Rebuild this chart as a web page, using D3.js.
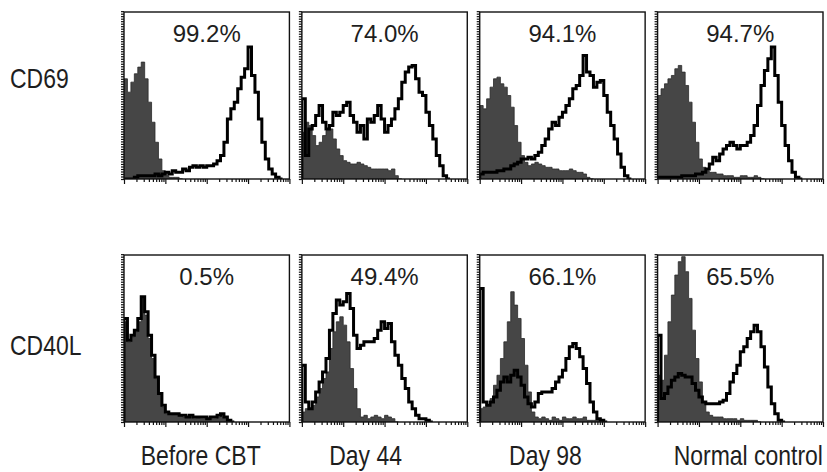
<!DOCTYPE html>
<html>
<head>
<meta charset="utf-8">
<title>CD69 / CD40L expression</title>
<script src="https://cdn.jsdelivr.net/npm/d3@7"></script>
<style>
body { margin: 0; background: #fff; }
svg { display: block; }
.narrow { font-family: "Liberation Sans", Arial, sans-serif; fill: #1e1e1e; }
.pct { font-family: "Liberation Sans", Arial, sans-serif; fill: #1e1e1e; }
</style>
</head>
<body>
<div id="chart"></div>
<script>

// row / column categories
var markers = ["CD69", "CD40L"];
var timepoints = ["Before CBT", "Day 44", "Day 98", "Normal control"];

// % positive cells printed in each panel
var cd69Pct = ["99.2%", "74.0%", "94.1%", "94.7%"];
var cd40lPct = ["0.5%", "49.4%", "66.1%", "65.5%"];

// histograms, 48 channels across the log axis, height in % of panel
// "Iso" = grey filled control, "Stain" = black outline
var cd69BeforeIso = [60,52,58,63,67,70,60,46,34,22,12,5,2,1,1,1,0];
var cd69BeforeStain = [0,0,0,1,2,2,2,2,2,3,2,3,4,3,5,4,4,6,5,7,8,7,8,7,8,8,9,11,14,22,36,42,46,54,61,66,79,62,52,36,22,12,6,3,1,0];

var cd69Day44Iso = [28,34,32,26,20,22,26,29,30,24,18,14,11,10,9,9,10,9,8,7,6,6,6,6,6,5,6,2,0];
var cd69Day44Stain = [48,14,30,32,38,44,34,30,32,40,38,40,44,46,38,34,28,32,24,36,34,38,44,36,28,32,36,42,48,58,64,67,68,60,52,50,40,32,24,14,8,2,0];

var cd69Day98Iso = [44,42,48,55,60,61,57,55,50,43,32,22,14,10,8,9,10,9,8,7,7,6,6,5,5,5,6,5,4,4,3,1,0];
var cd69Day98Stain = [3,4,4,4,4,5,5,6,6,8,9,10,12,12,13,12,14,16,20,24,30,34,32,37,40,44,48,54,56,62,74,64,62,55,58,59,50,40,32,24,15,7,2,0];

var cd69NormalIso = [50,54,57,60,62,66,68,64,56,46,34,22,12,7,5,4,4,3,3,2,2,2,1,1,2,2,1,1,2,1,0];
var cd69NormalStain = [1,1,1,1,1,1,1,2,2,2,2,3,3,4,6,9,13,11,15,18,20,22,20,18,20,20,22,26,32,44,56,65,72,79,62,46,32,20,11,4,1,0];

var cd40lBeforeIso = [60,48,51,54,60,74,64,50,38,26,16,9,5,5,4,5,4,3,3,3,2,3,2,2,2,2,2,3,4,3,1,0];
var cd40lBeforeStain = [62,49,52,55,62,75,66,52,40,27,17,10,6,5,5,5,4,4,3,4,3,3,3,3,2,3,3,4,5,3,1,0];

var cd40lDay44Iso = [6,8,8,10,15,20,26,30,44,54,60,63,58,48,32,20,8,3,4,2,3,4,3,2,4,3,2,0];
var cd40lDay44Stain = [34,12,8,12,18,24,30,38,55,65,73,70,72,77,68,52,44,46,48,48,48,50,55,60,56,59,48,40,34,26,20,12,8,4,2,2,1,0];

var cd40lDay98Iso = [8,9,10,14,22,28,38,48,60,78,70,62,50,34,18,6,3,2,3,2,1,3,2,1,3,2,2,3,2,2,3,1,1,1,1,0];
var cd40lDay98Stain = [80,12,10,12,15,19,24,27,24,28,31,27,22,15,11,9,12,17,18,18,18,20,24,27,31,38,45,47,44,39,32,23,12,6,2,1,0];

var cd40lNormalIso = [28,25,40,60,76,88,96,99,90,74,55,38,24,12,6,4,3,3,3,2,2,2,2,1,2,1,1,1,1,0];
var cd40lNormalStain = [52,14,17,21,25,27,29,28,27,27,23,19,15,12,11,11,11,11,12,13,17,24,29,34,42,45,50,54,58,54,45,33,21,11,5,1,0];

var isoRows = [
	[cd69BeforeIso, cd69Day44Iso, cd69Day98Iso, cd69NormalIso],
	[cd40lBeforeIso, cd40lDay44Iso, cd40lDay98Iso, cd40lNormalIso]
];
var stainRows = [
	[cd69BeforeStain, cd69Day44Stain, cd69Day98Stain, cd69NormalStain],
	[cd40lBeforeStain, cd40lDay44Stain, cd40lDay98Stain, cd40lNormalStain]
];
var pctRows = [cd69Pct, cd40lPct];

var nBins = 48;


/*
 * Histogram - one flow cytometry panel
 */
Histogram = function(_svg, _id, _x, _y, _w, _h, _iso, _stain, _label){
	this.svg = _svg;
	this.id = _id;
	this.x0 = _x;
	this.y0 = _y;
	this.width = _w;
	this.height = _h;
	this.iso = _iso;
	this.stain = _stain;
	this.label = _label;

	this.initVis();
}

Histogram.prototype.initVis = function(){
	var vis = this;

	vis.g = vis.svg.append("g")
		.attr("transform", "translate(" + vis.x0 + "," + vis.y0 + ")");

	vis.x = d3.scaleLinear().domain([0, nBins]).range([0, vis.width]);
	vis.y = d3.scaleLinear().domain([0, 100]).range([vis.height, 0]);

	// log fluorescence axis, only used for the tick marks
	vis.xLog = d3.scaleLog().domain([1, 10000]).range([0, vis.width]);

	vis.g.append("clipPath").attr("id", "clip" + vis.id)
		.append("rect")
		.attr("width", vis.width)
		.attr("height", vis.height);

	vis.plot = vis.g.append("g").attr("clip-path", "url(#clip" + vis.id + ")");

	vis.updateVis();
}

Histogram.prototype.updateVis = function(){
	var vis = this;

	var toPoints = function(arr){
		var pts = [[0, 0]];
		arr.forEach(function(v, i){ pts.push([i, v]); });
		pts.push([arr.length, arr[arr.length - 1]]);
		return pts;
	};

	var area = d3.area()
		.curve(d3.curveStepAfter)
		.x(function(d){ return vis.x(d[0]); })
		.y0(vis.y(0))
		.y1(function(d){ return vis.y(d[1]); });

	var line = d3.line()
		.curve(d3.curveStepAfter)
		.x(function(d){ return vis.x(d[0]); })
		.y(function(d){ return vis.y(d[1]); });

	vis.plot.append("path")
		.datum(toPoints(vis.iso))
		.attr("d", area)
		.attr("fill", "#464646")
		.attr("stroke", "#2a2a2a")
		.attr("stroke-width", 0.8);

	vis.plot.append("path")
		.datum(toPoints(vis.stain))
		.attr("d", line)
		.attr("fill", "none")
		.attr("stroke", "#000")
		.attr("stroke-width", 3)
		.attr("stroke-linejoin", "miter");

	// frame
	vis.g.append("rect")
		.attr("width", vis.width)
		.attr("height", vis.height)
		.attr("fill", "none")
		.attr("stroke", "#111")
		.attr("stroke-width", 1.4);

	// minor + major ticks on the bottom (log decades)
	var minor = [];
	[1, 10, 100, 1000].forEach(function(dec){
		for(var m = 2; m < 10; m++){ minor.push(dec * m); }
	});
	var major = [1, 10, 100, 1000, 10000];

	var bottomMinor = vis.g.append("g")
		.attr("transform", "translate(0," + vis.height + ")")
		.call(d3.axisBottom(vis.xLog).tickValues(minor).tickSize(3).tickFormat(""));
	var bottomMajor = vis.g.append("g")
		.attr("transform", "translate(0," + vis.height + ")")
		.call(d3.axisBottom(vis.xLog).tickValues(major).tickSize(5).tickFormat(""));

	// dense count ticks down the left edge
	var left = vis.g.append("g")
		.call(d3.axisLeft(vis.y).tickValues(d3.range(0, 101, 1.5)).tickSize(3).tickFormat(""));

	[bottomMinor, bottomMajor, left].forEach(function(ax){
		ax.select(".domain").remove();
		ax.selectAll("line").attr("stroke", "#111").attr("stroke-width", 1.2);
	});

	vis.g.append("text")
		.attr("class", "pct")
		.attr("x", vis.width / 2)
		.attr("y", 30)
		.attr("text-anchor", "middle")
		.attr("font-size", 24)
		.text(vis.label);
}


// condensed label: regular face squeezed horizontally
var narrowText = function(x, y, anchor, str){
	svg.append("g")
		.attr("transform", "translate(" + x + "," + y + ")")
		.append("text")
		.attr("class", "narrow")
		.attr("transform", "scale(0.82,1)")
		.attr("text-anchor", anchor)
		.attr("font-size", 28)
		.text(str);
};

// layout
var svg = d3.select("#chart").append("svg")
	.attr("width", 827)
	.attr("height", 472);

var colScale = d3.scaleBand().domain(timepoints).range([124, 823]).paddingInner(0.07);
var rowScale = d3.scaleOrdinal().domain(markers).range([12, 255]);
var panelH = 167;

var rowLabelY = [88, 355];
var colLabelShift = [-6, -19, -17, 8];

markers.forEach(function(mk, r){
	timepoints.forEach(function(tp, c){
		new Histogram(svg, r + "_" + c, colScale(tp), rowScale(mk),
			colScale.bandwidth(), panelH,
			isoRows[r][c], stainRows[r][c], pctRows[r][c]);
	});

	narrowText(10, rowLabelY[r], "start", mk);
});

timepoints.forEach(function(tp, c){
	narrowText(colScale(tp) + colScale.bandwidth() / 2 + colLabelShift[c], 465, "middle", tp);
});

</script>
</body>
</html>
